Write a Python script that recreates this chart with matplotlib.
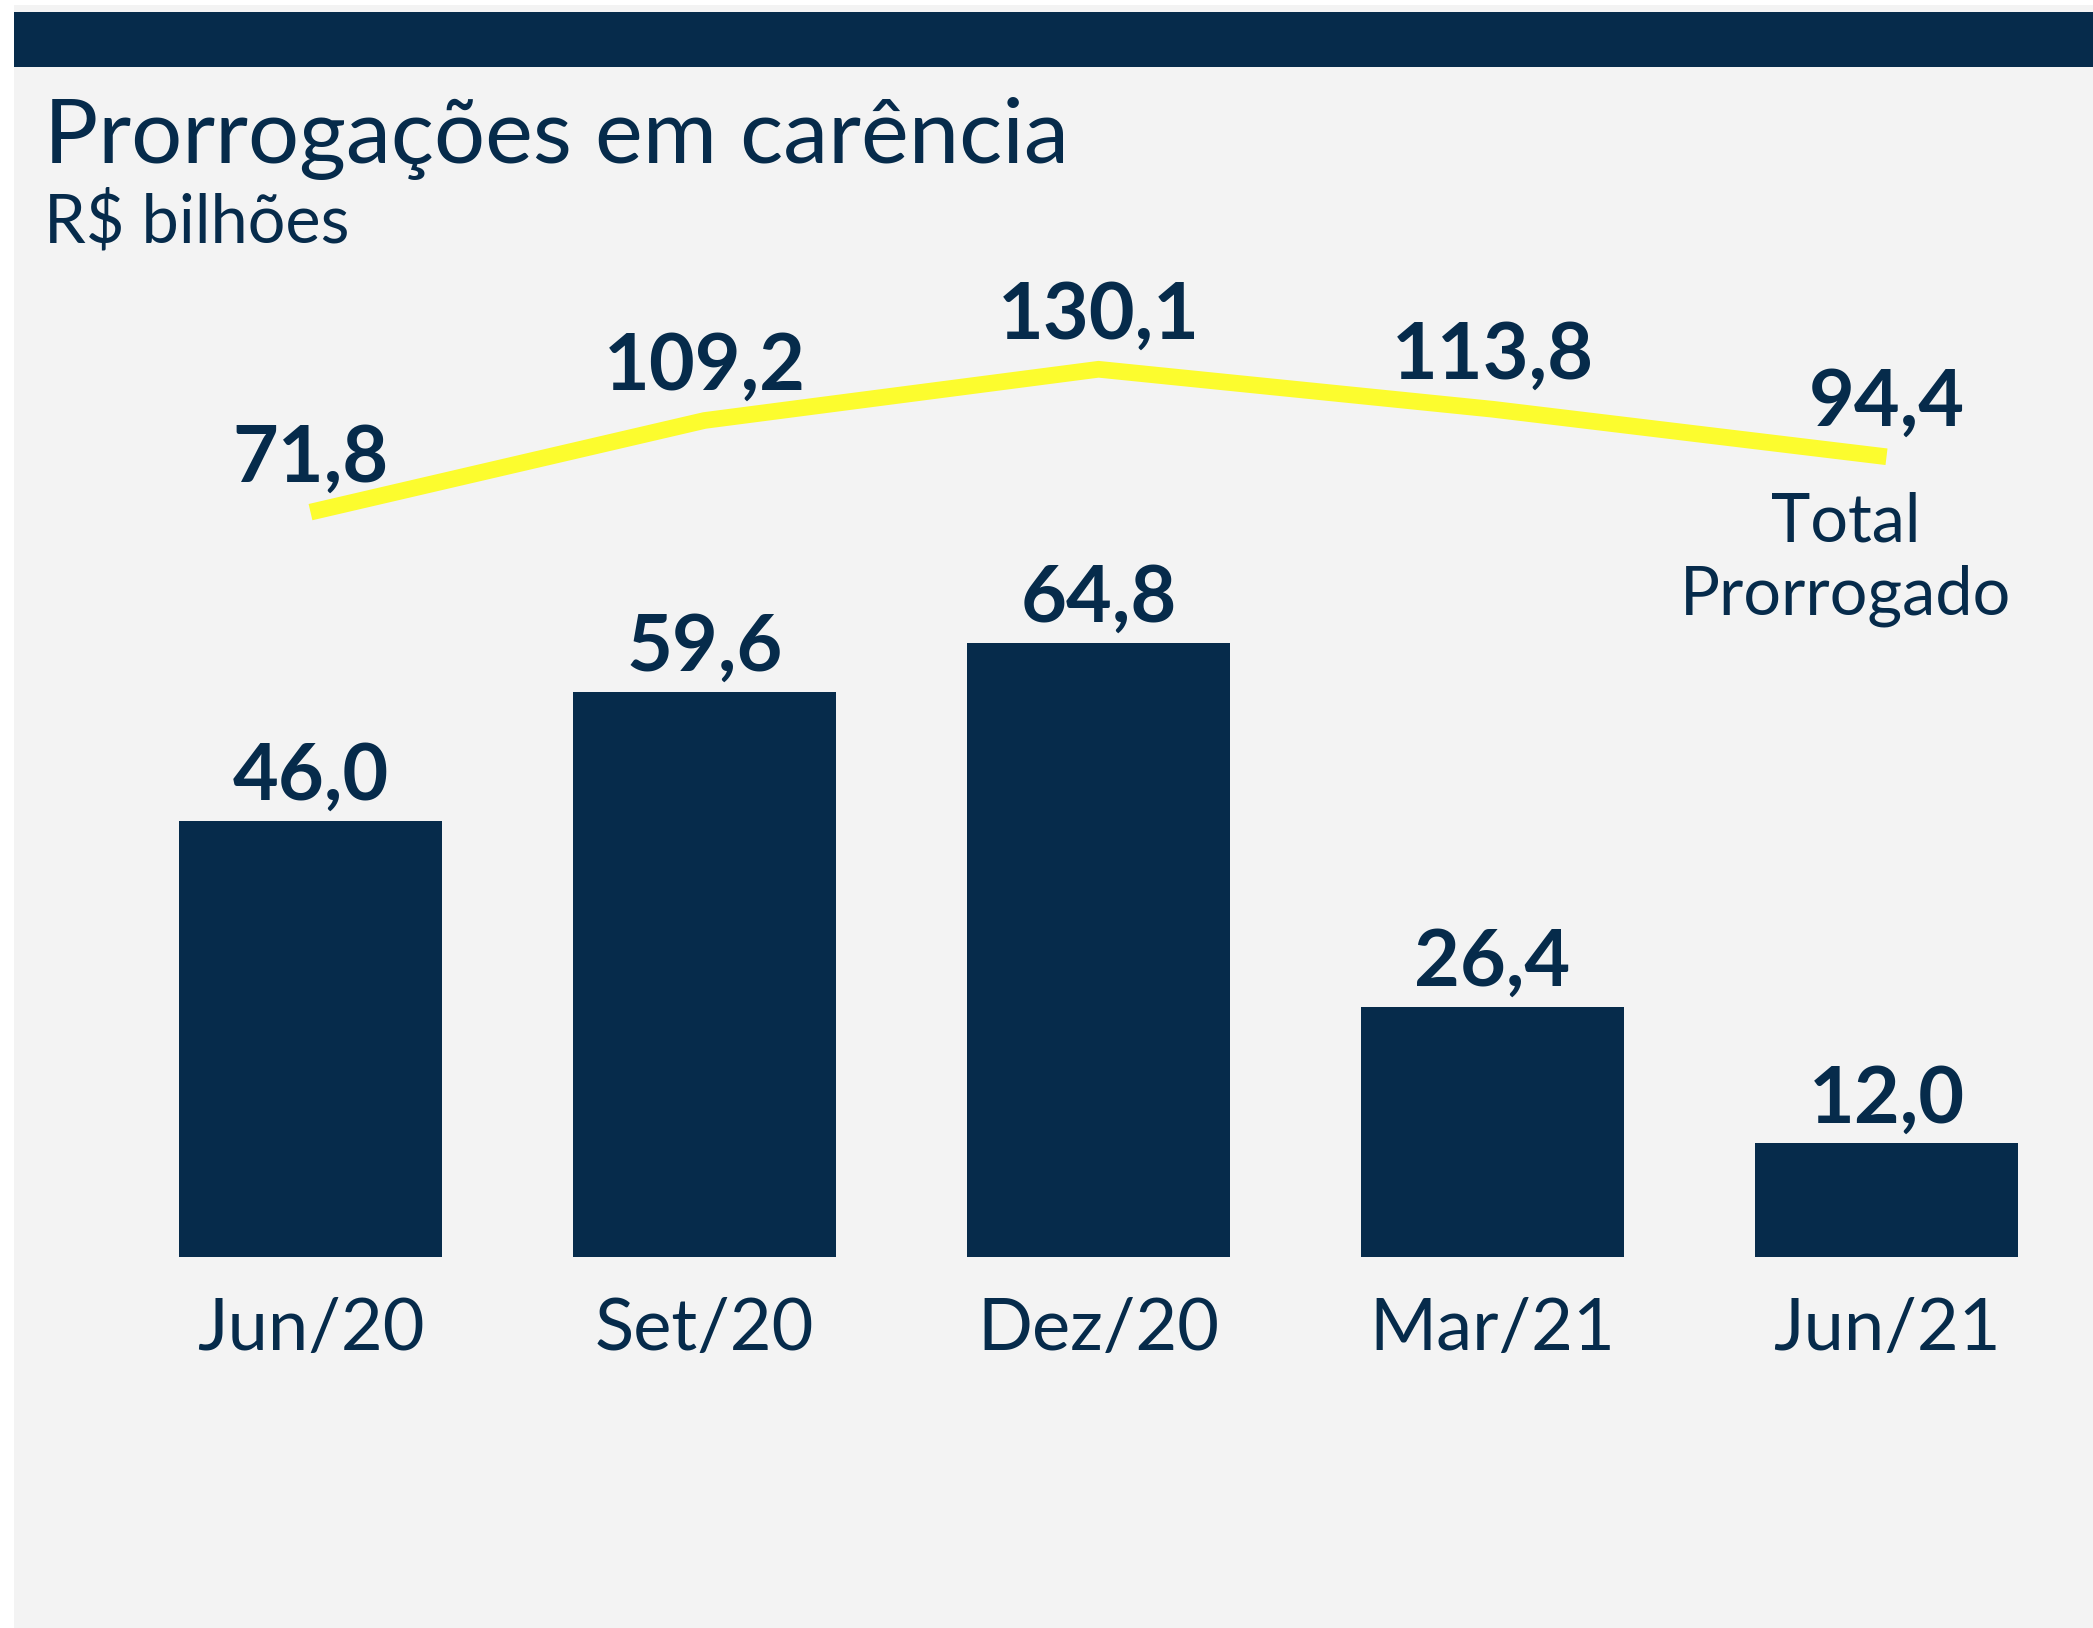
import matplotlib.pyplot as plt
from matplotlib.patches import Rectangle

# data
periods = ['Jun/20', 'Set/20', 'Dez/20', 'Mar/21', 'Jun/21']
em_carencia = [46.0, 59.6, 64.8, 26.4, 12.0]
total_prorrogado = [71.8, 109.2, 130.1, 113.8, 94.4]

NAVY = '#062b4b'
YELLOW = '#fcfc2e'
BG = '#f3f3f3'

W, H = 2093, 1628
plt.rcParams['font.family'] = ['Lato', 'DejaVu Sans']

fig = plt.figure(figsize=(W / 100, H / 100), dpi=100, facecolor='white')

# light panel + dark band on top
fig.patches.append(Rectangle((14 / W, 0), 1 - 14 / W, 1 - 5 / H, transform=fig.transFigure,
                             facecolor=BG, edgecolor='none', zorder=-2))
fig.patches.append(Rectangle((14 / W, 1 - 67 / H), 1 - 14 / W, 55 / H, transform=fig.transFigure,
                             facecolor=NAVY, edgecolor='none', zorder=-1))

fig.text(44 / W, 1 - 163 / H, 'Prorrogações em carência', fontsize=65, color=NAVY, va='baseline')
fig.text(44 / W, 1 - 243 / H, 'R$ bilhões', fontsize=48, color=NAVY, va='baseline')

# axes: 394 px per category, baseline at y=1257 px from top
left, right = 113.5, 2083.5
bottom, top = 1257, 309
ax = fig.add_axes([left / W, 1 - bottom / H, (right - left) / W, (bottom - top) / H])
ax.set_facecolor('none')
x = list(range(len(periods)))
bars = ax.bar(x, em_carencia, width=0.667, color=NAVY)
ax.set_xlim(-0.5, 4.5)
ax.set_ylim(0, 100)
for b, v in zip(bars, em_carencia):
    ax.annotate(f'{v:.1f}'.replace('.', ','), (b.get_x() + b.get_width() / 2, v),
                xytext=(0, 15), textcoords='offset points', ha='center', va='baseline',
                fontsize=57, fontweight='bold', color=NAVY)

ax.set_xticks(x)
ax.set_xticklabels(periods, fontsize=52, color=NAVY)
ax.tick_params(axis='x', length=0, pad=29)
ax.set_yticks([])
for s in ax.spines.values():
    s.set_visible(False)

# total line on its own scale
ax2 = ax.twinx()
ax2.set_ylim(-232.2, 154.7)
ax2.plot(x, total_prorrogado, color=YELLOW, lw=12, solid_joinstyle='miter', solid_capstyle='butt')
for xi, v in zip(x, total_prorrogado):
    ax2.annotate(f'{v:.1f}'.replace('.', ','), (xi, v),
                 xytext=(0, 22), textcoords='offset points', ha='center', va='baseline',
                 fontsize=57, fontweight='bold', color=NAVY)
ax2.set_yticks([])
for s in ax2.spines.values():
    s.set_visible(False)

fig.text(1846 / W, 1 - 541 / H, 'Total', fontsize=48, color=NAVY, ha='center', va='baseline')
fig.text(1846 / W, 1 - 615 / H, 'Prorrogado', fontsize=48, color=NAVY, ha='center', va='baseline')

fig.savefig('out.png', dpi=100, facecolor=fig.get_facecolor())
